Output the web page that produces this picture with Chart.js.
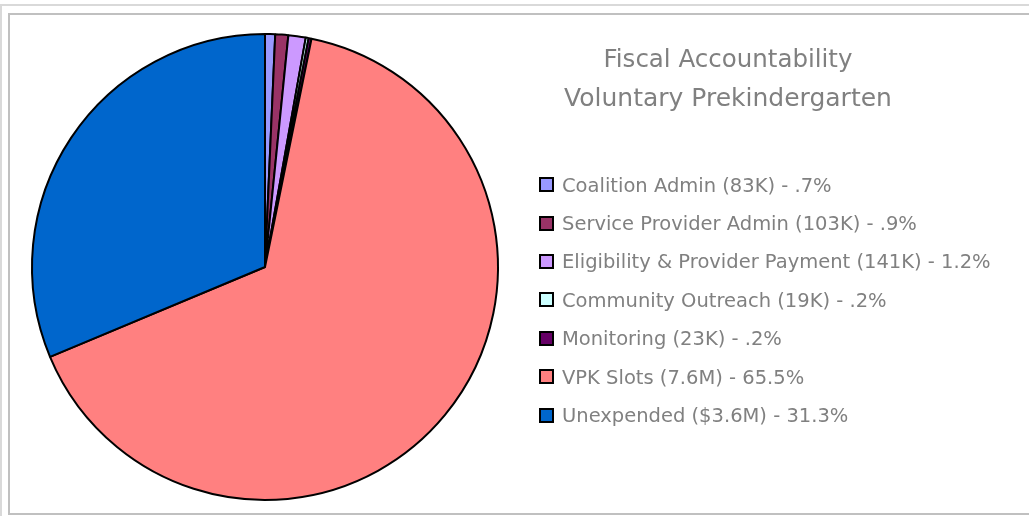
<!DOCTYPE html>
<html>
<head>
<meta charset="utf-8">
<script src="https://cdn.jsdelivr.net/npm/chart.js@4/dist/chart.umd.min.js"></script>
<style>
  html, body { margin: 0; padding: 0; background: #fff; }
  body { width: 1029px; height: 516px; position: relative; overflow: hidden; font-family: "DejaVu Sans", sans-serif; }
  #outer { position: absolute; left: 0; top: 4px; width: 1040px; height: 600px; border-left: 2px solid #d9d9d9; border-top: 2px solid #d9d9d9; box-sizing: border-box; }
  #inner { position: absolute; left: 8px; top: 13px; width: 1040px; height: 502px; border-left: 2px solid #c0c0c0; border-top: 2px solid #c0c0c0; border-bottom: 2px solid #c0c0c0; box-sizing: border-box; }
  #c { position: absolute; left: 0; top: 0; }
  #title { position: absolute; left: 478px; width: 500px; top: 39px; text-align: center; color: #808080; font-size: 25px; line-height: 39px; }
  #title div:first-child { font-size: 24.5px; }
  #legend { position: absolute; left: 539px; top: 166px; color: #808080; font-size: 19.5px; }
  .row { height: 38.4px; display: flex; align-items: center; position: relative; }
  .box { width: 11px; height: 11px; border: 2px solid #000; margin-right: 8px; margin-top: -1px; flex: none; }
  .row span { white-space: nowrap; }
</style>
</head>
<body>
<div id="outer"></div>
<div id="inner"></div>
<canvas id="c" width="1029" height="516"></canvas>
<div id="title"></div>
<div id="legend"></div>
<script>
const titleLines = ["Fiscal Accountability", "Voluntary Prekindergarten"];
const categories = [
  "Coalition Admin (83K) - .7%",
  "Service Provider Admin (103K) - .9%",
  "Eligibility & Provider Payment (141K) - 1.2%",
  "Community Outreach (19K) - .2%",
  "Monitoring (23K) - .2%",
  "VPK Slots (7.6M) - 65.5%",
  "Unexpended ($3.6M) - 31.3%"
];
const shares = [0.7, 0.9, 1.2, 0.2, 0.2, 65.5, 31.3];
const colors = ["#9999FF", "#993366", "#CC99FF", "#CCFFFF", "#660066", "#FF8080", "#0066CC"];

document.getElementById('title').innerHTML = titleLines.map(t => '<div>' + t + '</div>').join('');
const leg = document.getElementById('legend');
categories.forEach((c, i) => {
  const r = document.createElement('div');
  r.className = 'row';
  const b = document.createElement('div');
  b.className = 'box';
  b.style.background = colors[i];
  const s = document.createElement('span');
  s.textContent = c;
  r.appendChild(b); r.appendChild(s);
  leg.appendChild(r);
});

new Chart(document.getElementById('c'), {
  type: 'pie',
  data: {
    labels: categories,
    datasets: [{
      data: shares,
      backgroundColor: colors,
      borderColor: '#000000',
      borderWidth: 2
    }]
  },
  options: {
    responsive: false,
    animation: false,
    events: [],
    layout: { padding: { left: 31, top: 33, right: 530, bottom: 15 } },
    plugins: { legend: { display: false }, tooltip: { enabled: false }, title: { display: false } }
  }
});
</script>
</body>
</html>
